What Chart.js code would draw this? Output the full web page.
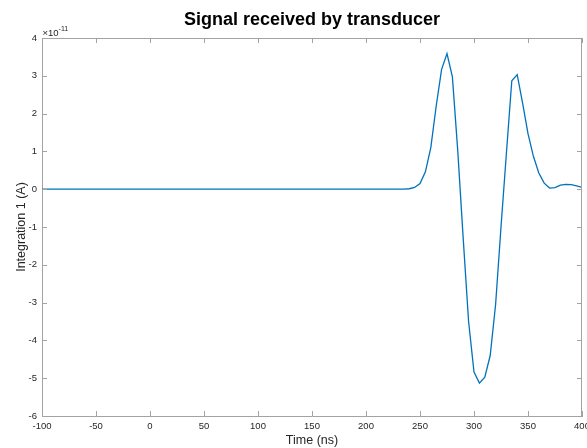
<!DOCTYPE html>
<html>
<head>
<meta charset="utf-8">
<title>Signal received by transducer</title>
<script src="https://cdn.jsdelivr.net/npm/chart.js@4.4.1/dist/chart.umd.min.js"></script>
<style>
  html, body { margin: 0; padding: 0; background: #ffffff; }
  #wrap { width: 587px; height: 448px; }
</style>
</head>
<body>
<div id="wrap"><canvas id="chart" width="587" height="448"></canvas></div>
<script>
// Sample times (ns)
const timeNs = [
  -100, -95, -90, -85, -80, -75, -70, -65, -60, -55,
  -50, -45, -40, -35, -30, -25, -20, -15, -10, -5,
  0, 5, 10, 15, 20, 25, 30, 35, 40, 45,
  50, 55, 60, 65, 70, 75, 80, 85, 90, 95,
  100, 105, 110, 115, 120, 125, 130, 135, 140, 145,
  150, 155, 160, 165, 170, 175, 180, 185, 190, 195,
  200, 205, 210, 215, 220, 225, 230, 235, 240, 245,
  250, 255, 260, 265, 270, 275, 280, 285, 290, 295,
  300, 305, 310, 315, 320, 325, 330, 335, 340, 345,
  350, 355, 360, 365, 370, 375, 380, 385, 390, 395,
  400
];

// Integrated current, in units of 1e-11 A
const currentE11 = [
  0, 0, 0, 0, 0, 0, 0, 0, 0, 0,
  0, 0, 0, 0, 0, 0, 0, 0, 0, 0,
  0, 0, 0, 0, 0, 0, 0, 0, 0, 0,
  0, 0, 0, 0, 0, 0, 0, 0, 0, 0,
  0, 0, 0, 0, 0, 0, 0, 0, 0, 0,
  0, 0, 0, 0, 0, 0, 0, 0, 0, 0,
  0, 0, 0, 0, 0, 0, 0, 0.003, 0.012, 0.045,
  0.15, 0.46, 1.1, 2.2, 3.17, 3.59, 2.97, 1.0, -1.3, -3.5,
  -4.84, -5.13, -4.97, -4.4, -3.05, -1.0, 0.95, 2.87, 3.03, 2.28,
  1.47, 0.87, 0.43, 0.16, 0.03, 0.04, 0.11, 0.13, 0.12, 0.09,
  0.05
];

const xTicks = [-100, -50, 0, 50, 100, 150, 200, 250, 300, 350, 400];
const yTicks = [-6, -5, -4, -3, -2, -1, 0, 1, 2, 3, 4];

const titleText = 'Signal received by transducer';
const xLabel = 'Time (ns)';
const yLabel = 'Integration 1 (A)';
const exponentText = '-11';

const FONT = '"Liberation Sans", Arial, Helvetica, sans-serif';
const AXIS_COLOR = '#a3a3a3';
const TEXT_COLOR = '#262626';

const points = timeNs.map((t, i) => ({ x: t, y: currentE11[i] }));

// Box outline, inward tick marks, titles and the exponent marker
const decorations = {
  id: 'decorations',
  afterDraw(chart) {
    const { ctx, chartArea: a, scales } = chart;
    const tickLen = 5;
    ctx.save();
    ctx.strokeStyle = AXIS_COLOR;
    ctx.lineWidth = 1;
    ctx.beginPath();
    // top and right edges of the box
    ctx.moveTo(a.left, Math.round(a.top) + 0.5);
    ctx.lineTo(a.right, Math.round(a.top) + 0.5);
    ctx.moveTo(Math.round(a.right) - 0.5, a.top);
    ctx.lineTo(Math.round(a.right) - 0.5, a.bottom);
    xTicks.forEach(v => {
      const px = Math.round(scales.x.getPixelForValue(v)) + 0.5;
      ctx.moveTo(px, a.bottom);
      ctx.lineTo(px, a.bottom - tickLen);
      ctx.moveTo(px, a.top);
      ctx.lineTo(px, a.top + tickLen);
    });
    yTicks.forEach(v => {
      const py = Math.round(scales.y.getPixelForValue(v)) + 0.5;
      ctx.moveTo(a.left, py);
      ctx.lineTo(a.left + tickLen, py);
      ctx.moveTo(a.right, py);
      ctx.lineTo(a.right - tickLen, py);
    });
    ctx.stroke();

    ctx.fillStyle = '#000000';
    ctx.textAlign = 'center';
    ctx.textBaseline = 'alphabetic';
    ctx.font = 'bold 18px ' + FONT;
    ctx.fillText(titleText, (a.left + a.right) / 2, 25);

    ctx.fillStyle = TEXT_COLOR;
    ctx.font = '12.5px ' + FONT;
    ctx.fillText(xLabel, (a.left + a.right) / 2, 444);

    ctx.save();
    ctx.translate(24.5, (a.top + a.bottom) / 2);
    ctx.rotate(-Math.PI / 2);
    ctx.fillText(yLabel, 0, 0);
    ctx.restore();

    ctx.textAlign = 'left';
    ctx.font = '9.5px ' + FONT;
    ctx.fillText('\u00d710', a.left + 0.5, 35.5);
    const w = ctx.measureText('\u00d710').width;
    ctx.font = '7px ' + FONT;
    ctx.fillText(exponentText, a.left + 0.5 + w, 31);
    ctx.restore();
  }
};

new Chart(document.getElementById('chart'), {
  type: 'line',
  data: {
    datasets: [{
      data: points,
      borderColor: '#0072BD',
      borderWidth: 1.3,
      pointRadius: 0,
      tension: 0,
      fill: false
    }]
  },
  options: {
    responsive: false,
    animation: false,
    devicePixelRatio: 1,
    layout: { padding: { top: 38, right: 5, left: 0, bottom: 0 } },
    plugins: {
      legend: { display: false },
      tooltip: { enabled: false },
      title: { display: false }
    },
    scales: {
      x: {
        type: 'linear',
        min: -100,
        max: 400,
        afterBuildTicks(scale) { scale.ticks = xTicks.map(v => ({ value: v })); },
        afterFit(scale) { scale.height = 32; scale.paddingLeft = 0; scale.paddingRight = 0; },
        ticks: {
          font: { family: FONT, size: 9.5 },
          color: TEXT_COLOR,
          padding: 5,
          maxRotation: 0,
          autoSkip: false
        },
        grid: { drawOnChartArea: false, drawTicks: false },
        border: { display: true, color: AXIS_COLOR, width: 1 }
      },
      y: {
        type: 'linear',
        min: -6,
        max: 4,
        afterBuildTicks(scale) { scale.ticks = yTicks.map(v => ({ value: v })); },
        afterFit(scale) { scale.width = 42; scale.paddingTop = 0; scale.paddingBottom = 0; },
        ticks: {
          font: { family: FONT, size: 9.5 },
          color: TEXT_COLOR,
          padding: 5,
          autoSkip: false
        },
        grid: { drawOnChartArea: false, drawTicks: false },
        border: { display: true, color: AXIS_COLOR, width: 1 }
      }
    }
  },
  plugins: [decorations]
});
</script>
</body>
</html>
